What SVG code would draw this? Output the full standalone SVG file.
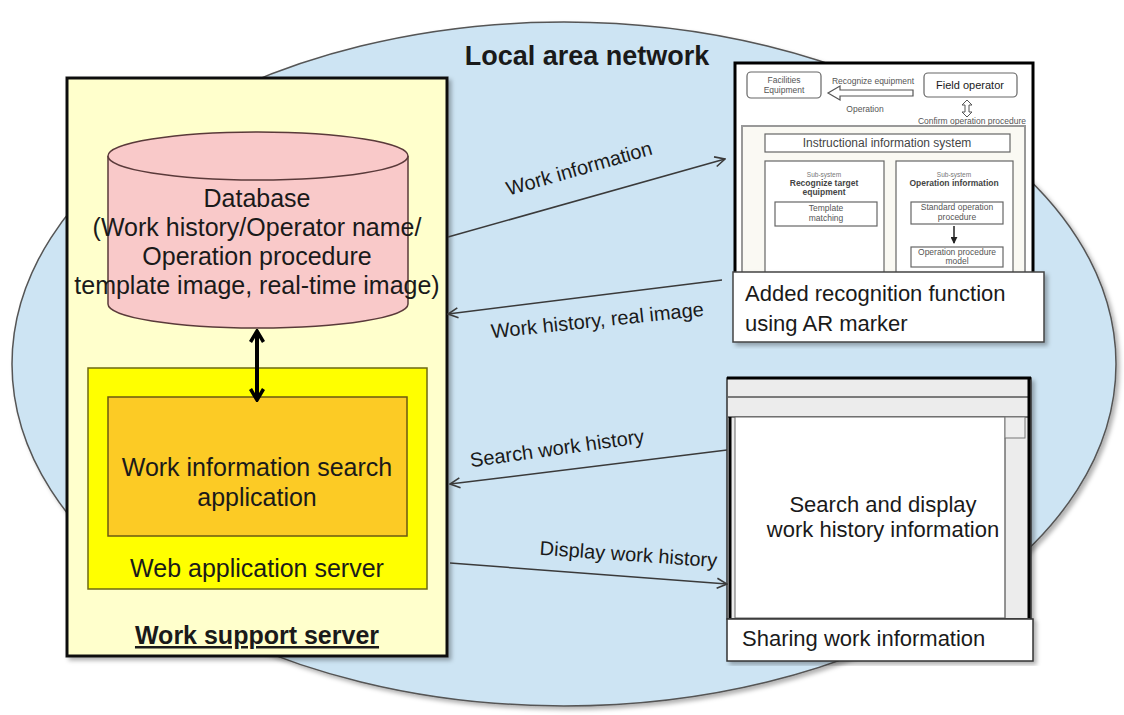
<svg xmlns="http://www.w3.org/2000/svg" width="1124" height="715" viewBox="0 0 1124 715">
  <defs>
    <filter id="shadow" x="-5%" y="-5%" width="115%" height="115%">
      <feDropShadow dx="3" dy="3" stdDeviation="2" flood-color="#000" flood-opacity="0.3"/>
    </filter>
    <marker id="open" viewBox="0 0 12 12" refX="11" refY="6" markerWidth="12" markerHeight="12" markerUnits="userSpaceOnUse" orient="auto-start-reverse">
      <path d="M1,1 L11,6 L1,11" fill="none" stroke="#3a3a3a" stroke-width="1.6"/>
    </marker>
    <marker id="bold" viewBox="0 0 16 16" refX="14" refY="8" markerWidth="16" markerHeight="16" markerUnits="userSpaceOnUse" orient="auto-start-reverse">
      <path d="M3,1.5 L14,8 L3,14.5" fill="none" stroke="#000" stroke-width="3.5" stroke-linejoin="miter"/>
    </marker>
    <marker id="tiny" viewBox="0 0 8 8" refX="7" refY="4" markerWidth="7" markerHeight="7" markerUnits="userSpaceOnUse" orient="auto">
      <path d="M0,0 L8,4 L0,8 Z" fill="#222"/>
    </marker>
  </defs>
  <style>
    text { font-family: "Liberation Sans", Arial, sans-serif; fill: #1a1a1a; }
    .main { font-size: 25px; text-anchor: middle; }
    .mid { font-size: 22px; text-anchor: middle; }
    .cap { font-size: 22px; }
    .lbl { font-size: 20px; text-anchor: middle; }
    .title { font-size: 27px; font-weight: bold; text-anchor: middle; }
    .sm { font-size: 8.5px; fill: #555; text-anchor: middle; }
    .smb { font-size: 8.5px; font-weight: bold; fill: #444; text-anchor: middle; }
    .xs { font-size: 6.5px; fill: #777; text-anchor: middle; }
    .md { font-size: 12px; fill: #444; text-anchor: middle; }
    .ibox { fill: #fff; stroke: #666; stroke-width: 1.2; }
    .conn { fill: none; stroke: #3a3a3a; stroke-width: 1.5; marker-end: url(#open); }
  </style>

  <rect width="1124" height="715" fill="#fff"/>

  <!-- network boundary -->
  <g id="lan">
    <ellipse cx="564" cy="364" rx="552" ry="342" fill="#cde4f3" stroke="#555" stroke-width="1.5" filter="url(#shadow)"/>
    <text class="title" x="587" y="65">Local area network</text>
  </g>

  <!-- server machine -->
  <g id="work-support-server">
    <rect x="67" y="78" width="380" height="578" fill="#ffffcc" stroke="#111" stroke-width="3" filter="url(#shadow)"/>
    <text x="257" y="644" font-size="25" font-weight="bold" text-anchor="middle" text-decoration="underline">Work support server</text>
  </g>

  <g id="database">
    <path d="M108,156 L108,304 A150,24 0 0 0 408,304 L408,156" fill="#f9c9c9" stroke="#5a3a3a" stroke-width="1.5"/>
    <ellipse cx="258" cy="156" rx="150" ry="24" fill="#f9c9c9" stroke="#5a3a3a" stroke-width="1.5"/>
    <text class="main" x="257" y="207">Database</text>
    <text class="main" x="257" y="236">(Work history/Operator name/</text>
    <text class="main" x="257" y="265">Operation procedure</text>
    <text class="main" x="257" y="294">template image, real-time image)</text>
  </g>

  <g id="web-application-server">
    <rect x="88" y="368" width="339" height="221" fill="#ffff00" stroke="#6e6a10" stroke-width="1.5"/>
    <text class="main" x="257" y="577">Web application server</text>
  </g>

  <g id="search-application">
    <rect x="108" y="397" width="299" height="139" fill="#fccb25" stroke="#6b5a10" stroke-width="1.5"/>
    <text class="main" x="257" y="476">Work information search</text>
    <text class="main" x="257" y="506">application</text>
  </g>

  <!-- AR terminal -->
  <g id="ar-terminal">
    <rect x="735" y="63" width="298" height="215" fill="#fff" stroke="#000" stroke-width="3"/>
    <rect x="747" y="72" width="74" height="26" rx="4" class="ibox"/>
    <text class="sm" x="784" y="83">Facilities</text>
    <text class="sm" x="784" y="93">Equipment</text>
    <rect x="924" y="73" width="93" height="24" rx="4" class="ibox"/>
    <text x="970" y="89" font-size="11" fill="#444" text-anchor="middle">Field operator</text>
    <text class="sm" x="873" y="84">Recognize equipment</text>
    <path d="M913,90 L840,90 L840,86 L828,93 L840,100 L840,96 L913,96 Z" fill="#fff" stroke="#555" stroke-width="1.2"/>
    <text class="sm" x="865" y="112">Operation</text>
    <path d="M967,100 L972,105 L969,105 L969,112 L972,112 L967,117 L962,112 L965,112 L965,105 L962,105 Z" fill="#fff" stroke="#555" stroke-width="1"/>
    <text class="sm" x="972" y="124">Confirm operation procedure</text>
    <rect x="742" y="126" width="283" height="150" fill="#faf9f3" stroke="#999" stroke-width="2"/>
    <rect x="765" y="134" width="245" height="18" class="ibox"/>
    <text class="md" x="887" y="147">Instructional information system</text>
    <rect x="765" y="161" width="119" height="114" class="ibox"/>
    <rect x="896" y="161" width="117" height="114" class="ibox"/>
    <text class="xs" x="824" y="177">Sub-system</text>
    <text class="smb" x="824" y="186">Recognize target</text>
    <text class="smb" x="824" y="195">equipment</text>
    <rect x="775" y="202" width="102" height="24" class="ibox"/>
    <text class="sm" x="826" y="211">Template</text>
    <text class="sm" x="826" y="221">matching</text>
    <text class="xs" x="954" y="177">Sub-system</text>
    <text class="smb" x="954" y="186">Operation information</text>
    <rect x="911" y="202" width="92" height="22" class="ibox"/>
    <text class="sm" x="957" y="210">Standard operation</text>
    <text class="sm" x="957" y="220">procedure</text>
    <line x1="954" y1="226" x2="954" y2="243" stroke="#222" stroke-width="1.5" marker-end="url(#tiny)"/>
    <rect x="911" y="247" width="92" height="20" class="ibox"/>
    <text class="sm" x="957" y="255">Operation procedure</text>
    <text class="sm" x="957" y="264">model</text>
    <rect x="733" y="272" width="311" height="70" fill="#fff" stroke="#444" stroke-width="1.5" filter="url(#shadow)"/>
    <text class="cap" x="745" y="301">Added recognition  function</text>
    <text class="cap" x="745" y="331">using AR marker</text>
  </g>

  <!-- browser client -->
  <g id="sharing-client">
    <rect x="727" y="378" width="304" height="241" fill="#ececec" stroke="#333" stroke-width="1.5" filter="url(#shadow)"/>
    <line x1="728" y1="397" x2="1029" y2="397" stroke="#555" stroke-width="1.5"/>
    <line x1="728" y1="417" x2="1029" y2="417" stroke="#555" stroke-width="1.5"/>
    <rect x="735" y="417" width="270" height="201" fill="#fff" stroke="#666" stroke-width="1"/>
    <rect x="1005" y="417" width="20" height="21" fill="#eee" stroke="#777" stroke-width="1"/>
    <line x1="1005" y1="438" x2="1005" y2="618" stroke="#777" stroke-width="1"/>
    <line x1="727" y1="378" x2="1031" y2="378" stroke="#000" stroke-width="3"/>
    <line x1="730" y1="417" x2="730" y2="618" stroke="#000" stroke-width="3"/>
    <line x1="1029" y1="378" x2="1029" y2="618" stroke="#000" stroke-width="3"/>
    <text class="mid" x="883" y="512">Search and display</text>
    <text class="mid" x="883" y="537">work history information</text>
    <rect x="727" y="619" width="306" height="42" fill="#fff" stroke="#333" stroke-width="1.5" filter="url(#shadow)"/>
    <text class="cap" x="742" y="646">Sharing  work information</text>
  </g>

  <!-- connectors -->
  <g id="connectors">
    <line x1="257" y1="331" x2="257" y2="400" stroke="#000" stroke-width="4" marker-start="url(#bold)" marker-end="url(#bold)"/>
    <line class="conn" x1="448" y1="237" x2="725" y2="159"/>
    <line class="conn" x1="722" y1="280" x2="448" y2="314"/>
    <line class="conn" x1="727" y1="450" x2="450" y2="484"/>
    <line class="conn" x1="450" y1="563" x2="727" y2="584"/>
    <text class="lbl" transform="translate(581,175) rotate(-16)">Work information</text>
    <text class="lbl" transform="translate(598,327) rotate(-6)">Work history, real image</text>
    <text class="lbl" transform="translate(558,455) rotate(-8)">Search work history</text>
    <text class="lbl" transform="translate(628,561) rotate(4)">Display work history</text>
  </g>
</svg>
